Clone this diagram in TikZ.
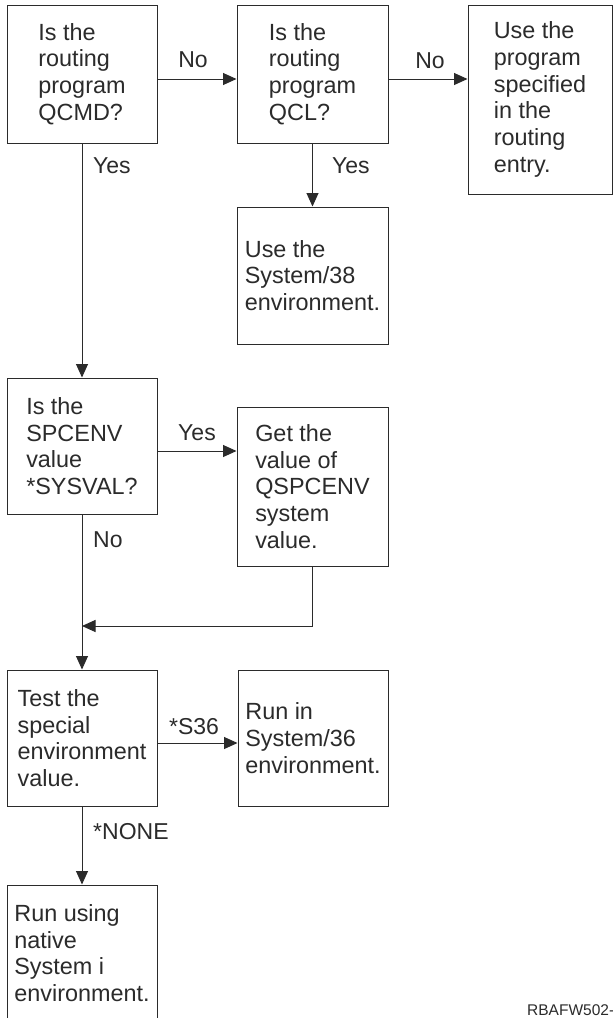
\documentclass[tikz,border=0pt]{standalone}
\usepackage{fontspec}
\setmainfont{Liberation Sans}
\usetikzlibrary{arrows.meta}
\definecolor{ink}{HTML}{2B2B2B}
\begin{document}
\begin{tikzpicture}[x=1pt,y=-1pt,
 box/.style={draw=ink,line width=1pt,inner sep=0pt,align=left,
   font=\fontsize{23.4}{26.7}\selectfont,text=ink},
 lbl/.style={inner sep=0pt,font=\fontsize{23}{26}\selectfont,text=ink},
 arr/.style={draw=ink,line width=1pt,-{Triangle[length=13.5pt,width=12pt]}}]
\clip (0,0) rectangle (613,1018);
\fill[white] (0,0) rectangle (613,1018);
% boxes
\node[box,minimum width=150pt,minimum height=138pt] (b1) at (82,74) {Is the\\routing\\program\\QCMD?};
\node[box,minimum width=151pt,minimum height=138pt] (b2) at (312.5,74) {Is the\\routing\\program\\QCL?};
\node[box,minimum width=144pt,minimum height=189pt] (b3) at (540,99.5) {Use the\\program\\specified\\in the\\routing\\entry.};
\node[box,minimum width=151pt,minimum height=137pt] (b4) at (312.5,275.5) {Use the\\System/38\\environment.};
\node[box,minimum width=150pt,minimum height=136pt] (b5) at (82,446) {Is the\\SPCENV\\value\\*SYSVAL?};
\node[box,minimum width=151pt,minimum height=159pt] (b6) at (312.5,486.5) {Get the\\value of\\QSPCENV\\system\\value.};
\node[box,minimum width=150pt,minimum height=136pt] (b7) at (82,738) {Test the\\special\\environment\\value.};
\node[box,minimum width=150pt,minimum height=136pt] (b8) at (313,738) {Run in\\System/36\\environment.};
\node[box,minimum width=150pt,minimum height=136pt] (b9) at (82,953) {Run using\\native\\System i\\environment.};
% helper coordinates
\coordinate (r1) at (0,79);
\coordinate (r2) at (0,451);
\coordinate (r3) at (0,626);
\coordinate (r4) at (0,743);
% connectors
\draw[arr] (b1.east |- r1) -- (b2.west |- r1);
\draw[arr] (b2.east |- r1) -- (b3.west |- r1);
\draw[arr] (b2.south) -- (b4.north);
\draw[arr] (b1.south) -- (b5.north);
\draw[arr] (b5.east |- r2) -- (b6.west |- r2);
\draw[arr] (b5.south) -- (b7.north);
\draw[arr] (b6.south) |- (b7.north |- r3);
\draw[arr] (b7.east |- r4) -- (b8.west |- r4);
\draw[arr] (b7.south) -- (b9.north);
% labels
\node[lbl] (l1) at (193,60) {No};
\node[lbl] (l2) at (430,61) {No};
\node[lbl,anchor=west] (l3) at (93,166) {Yes};
\node[lbl,anchor=west] (l4) at (332,166) {Yes};
\node[lbl] (l5) at (197,433) {Yes};
\node[lbl,anchor=west] (l6) at (93,540) {No};
\node[lbl] (l7) at (194,727) {*S36};
\node[lbl,anchor=west] (l8) at (93,832) {*NONE};
\node[inner sep=0pt,anchor=base west,font=\fontsize{15.5}{18}\selectfont,text=ink] (id) at (527,1015.5) {RBAFW502-};
\end{tikzpicture}
\end{document}
